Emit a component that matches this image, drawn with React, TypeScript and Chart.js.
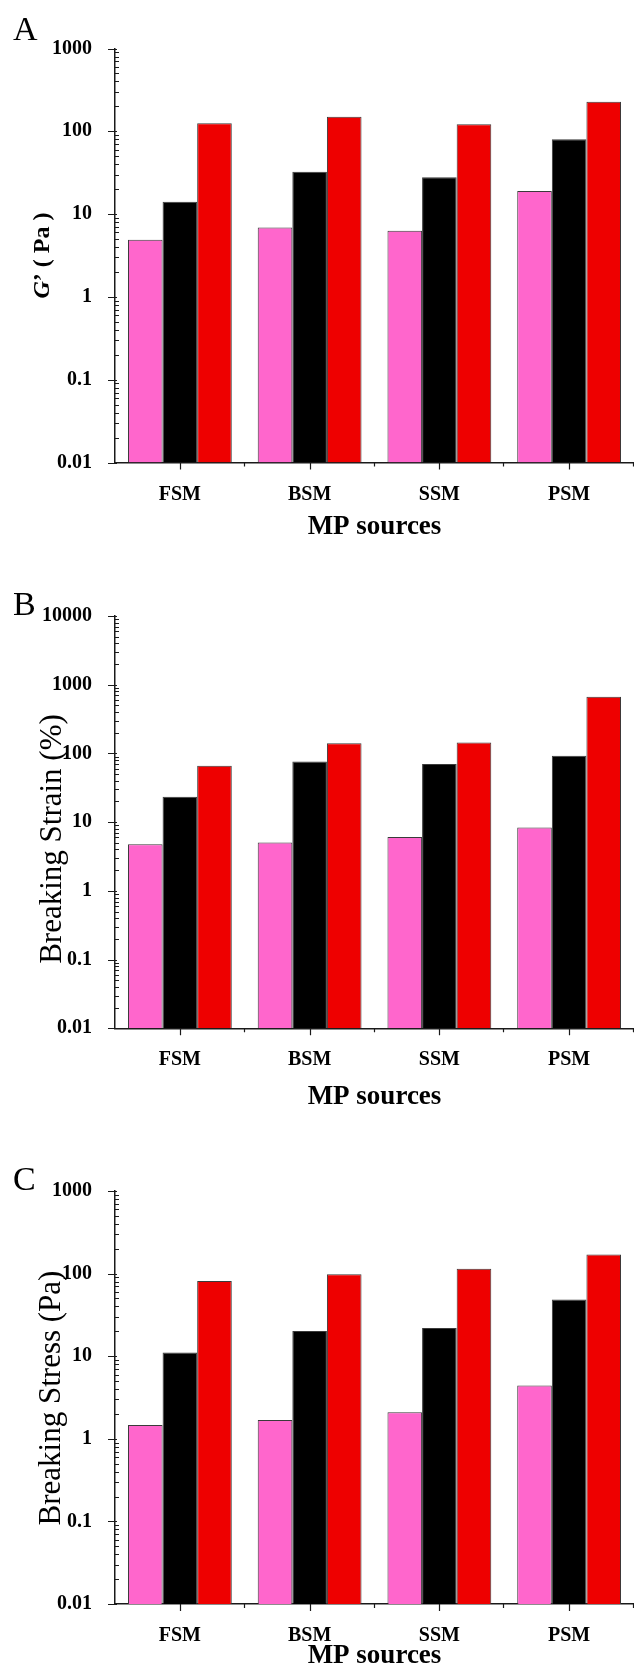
import React, { useEffect, useRef } from 'react';
import { Chart, registerables } from 'chart.js';

Chart.register(...registerables);

// ---------- data ----------
const categories = ['FSM', 'BSM', 'SSM', 'PSM'];

const gPrimePink = [4.9, 6.9, 6.3, 19.0];
const gPrimeBlack = [14.1, 32.5, 27.8, 80];
const gPrimeRed = [125, 150, 122, 227];

const strainPink = [4.76, 5.06, 6.06, 8.36];
const strainBlack = [23.4, 76.5, 70.4, 92.7];
const strainRed = [66.3, 141, 144, 670];

const stressPink = [1.47, 1.69, 2.1, 4.43];
const stressBlack = [11.1, 20.2, 21.9, 48.6];
const stressRed = [81.3, 98, 114.6, 170.6];

const tickValuesA = [0.01, 0.1, 1, 10, 100, 1000];
const tickLabelsA = ['0.01', '0.1', '1', '10', '100', '1000'];
const tickValuesB = [0.01, 0.1, 1, 10, 100, 1000, 10000];
const tickLabelsB = ['0.01', '0.1', '1', '10', '100', '1000', '10000'];
const tickValuesC = [0.01, 0.1, 1, 10, 100, 1000];
const tickLabelsC = ['0.01', '0.1', '1', '10', '100', '1000'];

const xTitle = 'MP sources';

// ---------- styles ----------
const FAMILY = '"Liberation Serif", "Times New Roman", serif';
const PINK = '#FF66CC';
const BLACK = '#000000';
const RED = '#EE0000';
const EDGE = '#3a3a3a';
const AXIS = '#1a1a1a';
const W = 634;

type TitlePart = { text: string; font: string };
type PanelCfg = {
  top: number;
  height: number;
  plotTop: number;
  plotBottom: number;
  xTitleCenter: number;
  letter: string;
  letterBaseline: number;
  yTitle: TitlePart[];
  yTitleX: number;
  yTitleY: number;
  pink: number[];
  black: number[];
  red: number[];
  tickValues: number[];
  tickLabels: string[];
};

const panels: PanelCfg[] = [
  {
    top: 0, height: 560, plotTop: 48.5, plotBottom: 462.5, xTitleCenter: 527,
    letter: 'A', letterBaseline: 40,
    yTitle: [
      { text: 'G', font: `italic bold 24px ${FAMILY}` },
      { text: '\u2019 ( Pa )', font: `bold 24px ${FAMILY}` },
    ],
    yTitleX: 43, yTitleY: 255.5,
    pink: gPrimePink, black: gPrimeBlack, red: gPrimeRed,
    tickValues: tickValuesA, tickLabels: tickLabelsA,
  },
  {
    top: 560, height: 565, plotTop: 616, plotBottom: 1028.3, xTitleCenter: 1096.7,
    letter: 'B', letterBaseline: 615,
    yTitle: [{ text: 'Breaking Strain (%)', font: `31px ${FAMILY}` }],
    yTitleX: 53, yTitleY: 839,
    pink: strainPink, black: strainBlack, red: strainRed,
    tickValues: tickValuesB, tickLabels: tickLabelsB,
  },
  {
    top: 1125, height: 544, plotTop: 1191, plotBottom: 1604, xTitleCenter: 1656.5,
    letter: 'C', letterBaseline: 1190,
    yTitle: [{ text: 'Breaking Stress (Pa)', font: `31px ${FAMILY}` }],
    yTitleX: 52, yTitleY: 1398,
    pink: stressPink, black: stressBlack, red: stressRed,
    tickValues: tickValuesC, tickLabels: tickLabelsC,
  },
];

function makeDecor(cfg: PanelCfg) {
  return {
    id: 'decor' + cfg.letter,
    afterDraw(chart: any) {
      const ctx: CanvasRenderingContext2D = chart.ctx;
      const { left, bottom } = chart.chartArea;
      const ys = chart.scales.y;
      const xs = chart.scales.x;
      ctx.save();
      ctx.strokeStyle = AXIS;
      ctx.lineWidth = 1.2;
      ctx.beginPath();
      const eMin = Math.round(Math.log10(ys.min));
      const eMax = Math.round(Math.log10(ys.max));
      for (let e = eMin; e <= eMax; e++) {
        const y = Math.round(ys.getPixelForValue(Math.pow(10, e))) + 0.5;
        ctx.moveTo(left - 7, y);
        ctx.lineTo(left + 2, y);
        if (e < eMax) {
          for (let k = 2; k <= 9; k++) {
            const yy = Math.round(ys.getPixelForValue(k * Math.pow(10, e))) + 0.5;
            ctx.moveTo(left, yy);
            ctx.lineTo(left + 4, yy);
          }
        }
      }
      const n = categories.length;
      for (let i = 0; i < n; i++) {
        const x = Math.round(xs.getPixelForValue(i)) + 0.5;
        ctx.moveTo(x, bottom);
        ctx.lineTo(x, bottom + 7);
      }
      for (let i = 1; i <= n; i++) {
        const x = Math.round(xs.getPixelForValue(i - 0.5)) - 0.5;
        ctx.moveTo(x, bottom);
        ctx.lineTo(x, bottom + 4);
      }
      ctx.stroke();

      // panel letter
      ctx.fillStyle = '#000';
      ctx.textAlign = 'left';
      ctx.textBaseline = 'alphabetic';
      ctx.font = `34px ${FAMILY}`;
      ctx.fillText(cfg.letter, 13, cfg.letterBaseline - cfg.top);

      // y-axis title (rotated, mixed styles)
      ctx.translate(cfg.yTitleX, cfg.yTitleY - cfg.top);
      ctx.rotate(-Math.PI / 2);
      ctx.textBaseline = 'middle';
      let total = 0;
      const widths = cfg.yTitle.map((p) => {
        ctx.font = p.font;
        const w = ctx.measureText(p.text).width;
        total += w;
        return w;
      });
      let x = -total / 2;
      cfg.yTitle.forEach((p, i) => {
        ctx.font = p.font;
        ctx.fillText(p.text, x, 0);
        x += widths[i];
      });
      ctx.restore();
    },
  };
}

function Panel({ cfg }: { cfg: PanelCfg }) {
  const ref = useRef<HTMLCanvasElement | null>(null);
  useEffect(() => {
    const canvas = ref.current!;
    const plotTopRel = cfg.plotTop - cfg.top;
    const plotBottomRel = cfg.plotBottom - cfg.top;
    const xScaleHeight = cfg.height - plotBottomRel;
    const xTitleSize = 27;
    const xTitlePadBottom = cfg.height - (cfg.xTitleCenter - cfg.top) - xTitleSize / 2;
    const mk = (label: string, data: number[], color: string) => ({
      label,
      data,
      backgroundColor: color,
      borderColor: EDGE,
      borderWidth: 1,
      barPercentage: 1,
      categoryPercentage: 0.8,
    });
    const chart = new Chart(canvas, {
      type: 'bar',
      data: {
        labels: categories,
        datasets: [
          mk('pink', cfg.pink, PINK),
          mk('black', cfg.black, BLACK),
          mk('red', cfg.red, RED),
        ],
      },
      options: {
        animation: false,
        responsive: false,
        maintainAspectRatio: false,
        devicePixelRatio: 1,
        layout: { padding: { top: plotTopRel, left: 0, right: 0, bottom: 0 } },
        plugins: { legend: { display: false }, tooltip: { enabled: false }, title: { display: false } },
        scales: {
          x: {
            type: 'category',
            offset: true,
            grid: { display: false },
            border: { display: true, color: AXIS, width: 1.5 },
            ticks: {
              color: '#000',
              font: { family: FAMILY, size: 20, weight: 'bold' },
              padding: 12,
              maxRotation: 0,
              autoSkip: false,
            },
            title: {
              display: true,
              text: xTitle,
              color: '#000',
              font: { family: FAMILY, size: xTitleSize, weight: 'bold', lineHeight: 1 },
              padding: { top: 0, bottom: xTitlePadBottom },
            },
            afterFit: (s: any) => { s.height = xScaleHeight; },
          },
          y: {
            type: 'logarithmic',
            min: cfg.tickValues[0],
            max: cfg.tickValues[cfg.tickValues.length - 1],
            grid: { display: false },
            border: { display: true, color: AXIS, width: 1.5 },
            ticks: {
              color: '#000',
              font: { family: FAMILY, size: 20, weight: 'bold' },
              padding: 15,
              autoSkip: false,
              callback: (_v: any, i: number) => cfg.tickLabels[i],
            },
            afterBuildTicks: (s: any) => {
              s.ticks = cfg.tickValues.map((v) => ({ value: v }));
            },
            afterFit: (s: any) => { s.width = 115; },
          },
        },
      } as any,
      plugins: [makeDecor(cfg)],
    });
    return () => chart.destroy();
  }, [cfg]);
  return (
    <canvas
      ref={ref}
      width={W}
      height={cfg.height}
      style={{ position: 'absolute', left: 0, top: cfg.top, width: W, height: cfg.height }}
    />
  );
}

export default function App() {
  return (
    <div style={{ position: 'absolute', left: 0, top: 0, width: W, height: 1669, background: '#fff' }}>
      {panels.map((p) => (
        <Panel key={p.letter} cfg={p} />
      ))}
    </div>
  );
}
